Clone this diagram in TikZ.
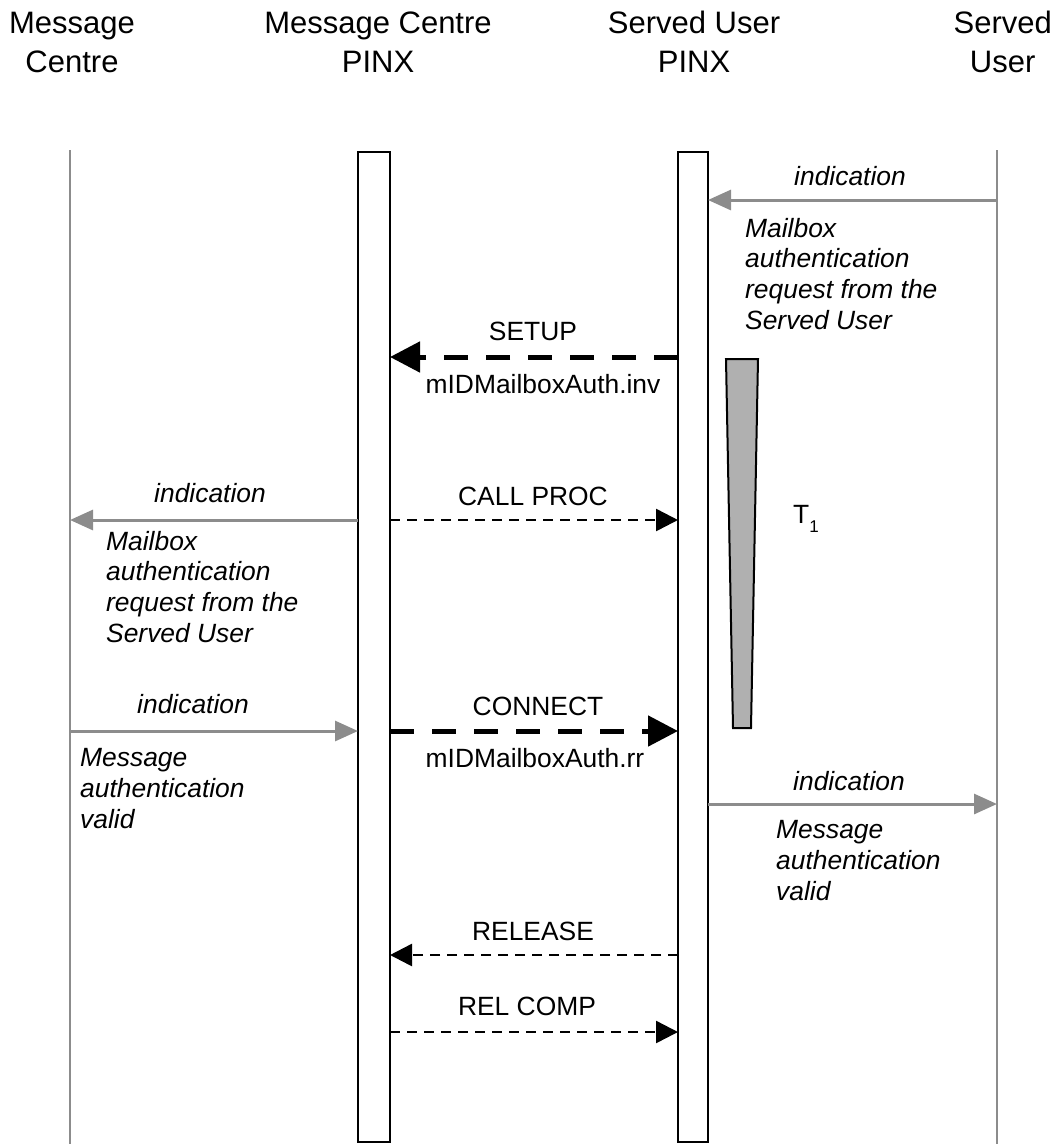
\documentclass[tikz,border=0pt]{standalone}
\usepackage{fontspec}
\setmainfont{Liberation Sans}
\usetikzlibrary{arrows.meta}
\definecolor{lifegrey}{HTML}{8C8C8C}
\definecolor{timergrey}{HTML}{B0B0B0}
\newcommand\hdrfont{\fontsize{31}{39}\selectfont}
\newcommand\lblfont{\fontsize{26.4}{30.6}\selectfont}
\tikzset{
  lifeline/.style={draw=lifegrey, line width=2pt},
  pinxbox/.style={draw=black, fill=white, line width=2.5pt, minimum width=30pt, minimum height=990pt, inner sep=0pt, outer sep=0pt},
  ind/.style={draw=lifegrey, line width=3pt, -{Triangle[length=23pt,width=20pt,fill=lifegrey]}},
  msgthick/.style={draw=black, line width=5pt, dash pattern=on 24pt off 18pt, -{Triangle[length=30pt,width=30pt]}},
  msgthin/.style={draw=black, line width=2.5pt, dash pattern=on 10pt off 7pt, -{Triangle[length=22pt,width=22pt]}},
  hdr/.style={font=\hdrfont, align=center, inner sep=0pt, anchor=base},
  lbl/.style={font=\lblfont, inner sep=0pt, anchor=base},
  ilbl/.style={font=\lblfont\itshape, inner sep=0pt, anchor=base},
  iblock/.style={font=\lblfont\itshape, inner sep=0pt, anchor=base west, align=left},
  timer/.style={draw=black, fill=timergrey, line width=2pt, line join=miter}
}
\begin{document}
\begin{tikzpicture}[x=1pt,y=-1pt]
\useasboundingbox (0,0) rectangle (1055,1144);
% headers (base anchor = baseline of the last line)
\node[hdr] (h1) at (72,72) {Message\\Centre};
\node[hdr] (h2) at (378,72) {Message Centre\\PINX};
\node[hdr] (h3) at (694,72) {Served User\\PINX};
\node[hdr, anchor=base east] (h4) at (1052,72) {Served\\User};
% lifelines
\coordinate (mct) at (70,150);
\coordinate (mcb) at (70,1146);
\coordinate (sut) at (997,150);
\coordinate (sub) at (997,1146);
\draw[lifeline] (mct) -- (mcb);
\draw[lifeline] (sut) -- (sub);
% PINX boxes
\node[pinxbox, minimum width=32pt] (b1) at (374,647) {};
\node[pinxbox] (b2) at (693,647) {};
% timer
\draw[timer] (726,359) -- (758,359) -- (751,728) -- (733,728) -- cycle;
\node[lbl, anchor=base west] (t1) at (793,523) {T\raisebox{-9pt}{\fontsize{17}{17}\selectfont 1}};
% 1 indication from served user
\draw[ind] (sut |- 0,200) -- (b2.east |- 0,200);
\node[ilbl] (l1) at (850,185) {indication};
\node[iblock] (l1b) at (745,329) {Mailbox\\authentication\\request from the\\Served User};
% SETUP
\draw[msgthick] (b2.west |- 0,357) -- (b1.east |- 0,357);
\node[lbl] (setup) at (533,340) {SETUP};
\node[lbl] (setupinv) at (543,393) {mIDMailboxAuth.inv};
% CALL PROC
\draw[msgthin] (b1.east |- 0,520) -- (b2.west |- 0,520);
\node[lbl] (callproc) at (533,505) {CALL PROC};
% indication to message centre
\draw[ind] (b1.west |- 0,520) -- (mct |- 0,520);
\node[ilbl] (l2) at (210,502) {indication};
\node[iblock] (l2b) at (106,642) {Mailbox\\authentication\\request from the\\Served User};
% indication from message centre
\draw[ind] (mct |- 0,731) -- (b1.west |- 0,731);
\node[ilbl] (l3) at (193,713) {indication};
\node[iblock] (l3b) at (80,828) {Message\\authentication\\valid};
% CONNECT
\draw[msgthick] (b1.east |- 0,731) -- (b2.west |- 0,731);
\node[lbl] (connect) at (538,715) {CONNECT};
\node[lbl] (connrr) at (535,767) {mIDMailboxAuth.rr};
% indication to served user
\draw[ind] (b2.east |- 0,804) -- (sut |- 0,804);
\node[ilbl] (l4) at (849,790) {indication};
\node[iblock] (l4b) at (776,900) {Message\\authentication\\valid};
% RELEASE
\draw[msgthin] (b2.west |- 0,955) -- (b1.east |- 0,955);
\node[lbl] (release) at (533,940) {RELEASE};
% REL COMP
\draw[msgthin] (b1.east |- 0,1032) -- (b2.west |- 0,1032);
\node[lbl] (relcomp) at (527,1015) {REL COMP};
\end{tikzpicture}
\end{document}
